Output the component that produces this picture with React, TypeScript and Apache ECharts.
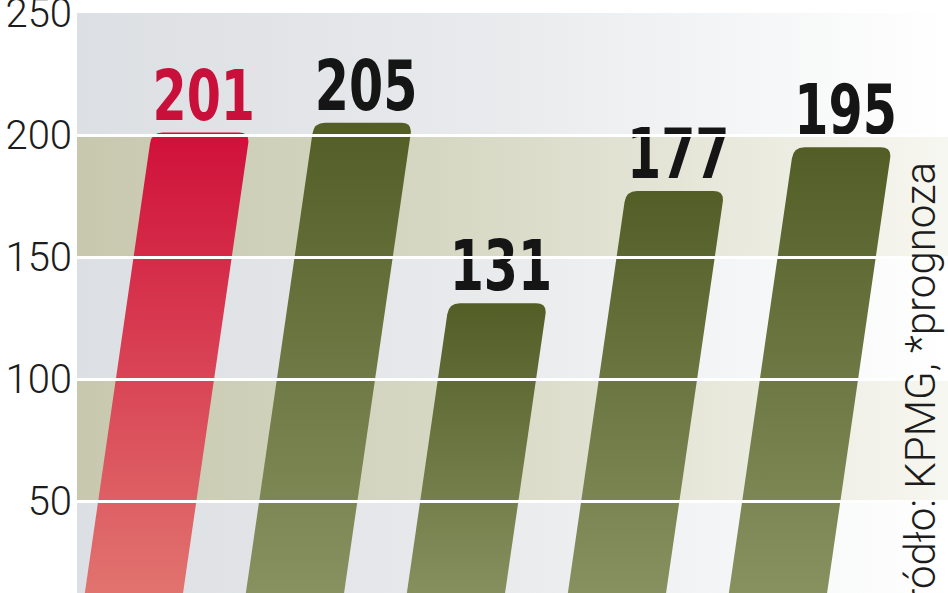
import React, { useEffect, useRef } from "react";
import * as echarts from "echarts";

// Data (x labels are cut off in the original)
const barIndex = [0, 1, 2, 3, 4];
const barValues = [201, 205, 131, 177, 195];
const highlighted = [true, false, false, false, false];
const yTicks = [0, 50, 100, 150, 200, 250];
const gridValues = [50, 100, 150, 200];
const sourceText = "źródło: KPMG, *prognoza";

const SLANT = 0.145;

export default function App() {
  const ref = useRef<HTMLDivElement | null>(null);

  useEffect(() => {
    if (!ref.current) return;
    const chart = echarts.init(ref.current, undefined, { renderer: "svg" });

    const lightBand = new echarts.graphic.LinearGradient(0, 0, 1, 0, [
      { offset: 0, color: "#dcdfe3" },
      { offset: 0.5, color: "#e9ebed" },
      { offset: 1, color: "#ffffff" },
    ]);
    const darkBand = new echarts.graphic.LinearGradient(0, 0, 1, 0, [
      { offset: 0, color: "#c7c8ae" },
      { offset: 0.5, color: "#dadbc8" },
      { offset: 1, color: "#f7f7f1" },
    ]);

    const renderItem = (params: any, api: any) => {
      const i = api.value(0);
      const v = api.value(1);
      const idx = params.dataIndex;
      const base = api.coord([i, 0]);
      const top = api.coord([i, v]);
      const bw = api.size([1, 0])[0] * 0.61;
      const yb = base[1];
      const yt = top[1];
      const dx = SLANT * (yb - yt);
      const blx = base[0] - bw / 2;
      const brx = base[0] + bw / 2;
      const tlx = blx + dx;
      const trx = brx + dx;
      const r = 11;
      const d =
        `M${blx},${yb} L${tlx - SLANT * r},${yt + r} Q${tlx},${yt} ${tlx + r},${yt} ` +
        `L${trx - r},${yt} Q${trx},${yt} ${trx - SLANT * r},${yt + r} L${brx},${yb} Z`;
      const red = highlighted[idx];
      const fill = red
        ? new echarts.graphic.LinearGradient(0, 0, 0, 1, [
            { offset: 0, color: "#d0103a" },
            { offset: 1, color: "#e27a72" },
          ])
        : new echarts.graphic.LinearGradient(0, 0, 0, 1, [
            { offset: 0, color: "#535d26" },
            { offset: 1, color: "#8b9564" },
          ]);
      return {
        type: "group",
        children: [
          { type: "path", shape: { pathData: d }, style: { fill } },
          {
            type: "text",
            x: (tlx + trx) / 2 + 3,
            y: yt - 37,
            scaleX: 0.78,
            style: {
              text: String(v),
              fill: red ? "#c8103a" : "#151515",
              font: 'bold 70px "DejaVu Sans Condensed", "DejaVu Sans", sans-serif',
              align: "center",
              verticalAlign: "middle",
              textAlign: "center",
              textVerticalAlign: "middle",
            },
          },
        ],
      };
    };

    chart.setOption({
      animation: false,
      backgroundColor: "#ffffff",
      grid: {
        left: 77,
        right: 0,
        top: 13,
        height: 610,
        containLabel: false,
        outerBoundsMode: "none",
      },
      xAxis: {
        type: "value",
        min: -0.3267,
        max: 5.083,
        show: false,
      },
      yAxis: {
        type: "value",
        min: yTicks[0],
        max: yTicks[yTicks.length - 1],
        interval: 50,
        axisLine: { show: false },
        axisTick: { show: false },
        splitLine: { show: false },
        splitArea: { show: true, areaStyle: { color: [lightBand, darkBand] } },
        axisLabel: {
          color: "#1c1c1c",
          fontSize: 40,
          fontFamily: "Roboto",
          fontWeight: 300,
          margin: 5,
          showMinLabel: false,
        },
      },
      series: [
        {
          type: "custom",
          z: 2,
          renderItem,
          data: barIndex.map((i, k) => [i, barValues[k]]),
          clip: false,
        },
        {
          type: "line",
          z: 10,
          data: [],
          markLine: {
            silent: true,
            symbol: ["none", "none"],
            label: { show: false },
            lineStyle: { color: "#ffffff", width: 3, type: "solid" },
            data: gridValues.map((g) => ({ yAxis: g })),
          },
        },
      ],
      graphic: [
        {
          type: "text",
          x: 920,
          y: 162,
          rotation: Math.PI / 2,
          z: 20,
          style: {
            text: sourceText,
            fill: "#1c1c1c",
            font: '300 42px "Roboto", sans-serif',
            align: "right",
            verticalAlign: "middle",
            textAlign: "right",
            textVerticalAlign: "middle",
          },
        },
      ],
    });

    return () => chart.dispose();
  }, []);

  return (
    <div
      ref={ref}
      style={{ position: "fixed", left: 0, top: 0, width: 948, height: 593 }}
    />
  );
}
